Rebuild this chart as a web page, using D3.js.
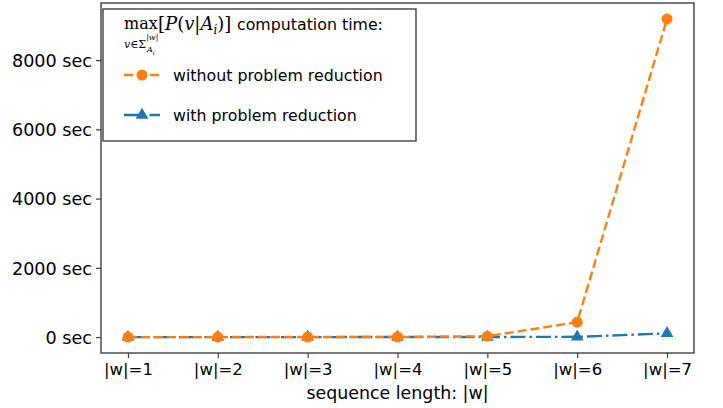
<!DOCTYPE html>
<html>
<head>
<meta charset="utf-8">
<script src="https://cdn.jsdelivr.net/npm/d3@7"></script>
<style>
  body { margin: 0; background: #fff; }
  svg { display: block; font-family: "DejaVu Sans", sans-serif; }
  .tick text { font-family: "DejaVu Sans", sans-serif; fill: #000; }
  .math { font-family: "DejaVu Serif", "Liberation Serif", serif; }
</style>
</head>
<body>
<svg id="chart" width="723" height="408"></svg>
<script>
// sequence lengths |w|
const lengths = [1, 2, 3, 4, 5, 6, 7];
// computation time in seconds
const withoutReduction = [0.2, 0.5, 1, 3, 25, 430, 9190];
const withReduction = [0.1, 0.2, 0.4, 1, 3, 8, 110];
const yTicks = [0, 2000, 4000, 6000, 8000];
const xTickLabels = ["|w|=1", "|w|=2", "|w|=3", "|w|=4", "|w|=5", "|w|=6", "|w|=7"];

const orange = "#ff7f0e", blue = "#1f77b4", spine = "#404040";
const plot = { left: 101, right: 694, top: 3, bottom: 353 };

const svg = d3.select("#chart");

// matplotlib style 5% margins
const xPad = (d3.max(lengths) - d3.min(lengths)) * 0.05;
const x = d3.scaleLinear()
  .domain([d3.min(lengths) - xPad, d3.max(lengths) + xPad])
  .range([plot.left, plot.right]);

const allVals = withoutReduction.concat(withReduction);
const yMin = d3.min(allVals), yMax = d3.max(allVals);
const yPad = (yMax - yMin) * 0.05;
const y = d3.scaleLinear()
  .domain([yMin - yPad, yMax + yPad])
  .range([plot.bottom, plot.top]);

const xAxis = d3.axisBottom(x)
  .tickValues(lengths)
  .tickFormat((d, i) => xTickLabels[i])
  .tickSize(5)
  .tickPadding(5);

const yAxis = d3.axisLeft(y)
  .tickValues(yTicks)
  .tickFormat(d => d + " sec")
  .tickSize(5)
  .tickPadding(4);

const xAxisG = svg.append("g")
  .attr("transform", `translate(0,${plot.bottom})`)
  .call(xAxis);
xAxisG.select(".domain").remove();
xAxisG.selectAll(".tick line").attr("stroke", spine).attr("stroke-width", 1.2);
xAxisG.selectAll(".tick text").style("font-size", "16.5px");

const yAxisG = svg.append("g")
  .attr("transform", `translate(${plot.left},0)`)
  .call(yAxis);
yAxisG.select(".domain").remove();
yAxisG.selectAll(".tick line").attr("stroke", spine).attr("stroke-width", 1.2);
yAxisG.selectAll(".tick text").style("font-size", "17.6px").attr("dy", "0.36em");

// axes frame
svg.append("rect")
  .attr("x", plot.left).attr("y", plot.top)
  .attr("width", plot.right - plot.left)
  .attr("height", plot.bottom - plot.top)
  .attr("fill", "none")
  .attr("stroke", spine)
  .attr("stroke-width", 1.4);

svg.append("text")
  .attr("x", (plot.left + plot.right) / 2)
  .attr("y", 399)
  .attr("text-anchor", "middle")
  .style("font-size", "17.4px")
  .text("sequence length:  |w|");

const line = d3.line()
  .x(d => x(d[0]))
  .y(d => y(d[1]));

const blueData = lengths.map((l, i) => [l, withReduction[i]]);
const orangeData = lengths.map((l, i) => [l, withoutReduction[i]]);

// with problem reduction (dash-dot, triangles)
svg.append("path")
  .datum(blueData)
  .attr("d", line)
  .attr("fill", "none")
  .attr("stroke", blue)
  .attr("stroke-width", 2.4)
  .attr("stroke-dasharray", "15,4,2.5,4");

const tri = d3.symbol().type(d3.symbolTriangle).size(70);
svg.append("g").selectAll("path")
  .data(blueData)
  .join("path")
  .attr("d", tri)
  .attr("transform", d => `translate(${x(d[0])},${y(d[1])})`)
  .attr("fill", blue);

// without problem reduction (dashed, circles)
svg.append("path")
  .datum(orangeData)
  .attr("d", line)
  .attr("fill", "none")
  .attr("stroke", orange)
  .attr("stroke-width", 2.4)
  .attr("stroke-dasharray", "9,4");

svg.append("g").selectAll("circle")
  .data(orangeData)
  .join("circle")
  .attr("cx", d => x(d[0]))
  .attr("cy", d => y(d[1]))
  .attr("r", 5.5)
  .attr("fill", orange);

// legend
const lg = svg.append("g");
lg.append("rect")
  .attr("x", 103).attr("y", 9)
  .attr("width", 313).attr("height", 132)
  .attr("fill", "#fff")
  .attr("stroke", spine)
  .attr("stroke-width", 1.4);

// title: max_{v in Sigma_{A_i}^{|w|}} [P(v|A_i)] computation time:
lg.append("text").attr("class", "math")
  .attr("x", 124).attr("y", 29)
  .style("font-size", "16px")
  .text("max");

const sub = lg.append("text").attr("class", "math").attr("y", 48);
sub.append("tspan").attr("x", 124).style("font-size", "11px").style("font-style", "italic").text("v");
sub.append("tspan").style("font-size", "11px").text("∈Σ");
sub.append("tspan").attr("dy", -8).style("font-size", "8px").text("|");
sub.append("tspan").style("font-size", "8px").style("font-style", "italic").text("w");
sub.append("tspan").style("font-size", "8px").text("|");
sub.append("tspan").attr("x", 147).attr("dy", 12).style("font-size", "8px").style("font-style", "italic").text("A");
sub.append("tspan").attr("dy", 3).style("font-size", "6px").style("font-style", "italic").text("i");

const expr = lg.append("text").attr("class", "math").attr("y", 30).style("font-size", "18px");
expr.append("tspan").attr("x", 158).text("[");
expr.append("tspan").style("font-style", "italic").text("P");
expr.append("tspan").text("(");
expr.append("tspan").style("font-style", "italic").text("v");
expr.append("tspan").text("|");
expr.append("tspan").style("font-style", "italic").text("A");
expr.append("tspan").attr("dy", 4).style("font-size", "12px").style("font-style", "italic").text("i");
expr.append("tspan").attr("dy", -4).text(")]");

lg.append("text")
  .attr("x", 237).attr("y", 30)
  .style("font-size", "15.8px")
  .text("computation time:");

const entries = [
  { label: "without problem reduction", color: orange, dash: "9,4", marker: "circle", y: 75 },
  { label: "with problem reduction", color: blue, dash: "15,4,2.5,4", marker: "tri", y: 115 }
];
entries.forEach(e => {
  lg.append("line")
    .attr("x1", 124).attr("x2", 160)
    .attr("y1", e.y).attr("y2", e.y)
    .attr("stroke", e.color)
    .attr("stroke-width", 2.4)
    .attr("stroke-dasharray", e.dash);
  if (e.marker === "circle") {
    lg.append("circle").attr("cx", 142).attr("cy", e.y).attr("r", 5.5).attr("fill", e.color);
  } else {
    lg.append("path").attr("d", tri).attr("transform", `translate(142,${e.y})`).attr("fill", e.color);
  }
  lg.append("text")
    .attr("x", 173).attr("y", e.y)
    .attr("dy", "0.36em")
    .style("font-size", "15.8px")
    .text(e.label);
});
</script>
</body>
</html>
